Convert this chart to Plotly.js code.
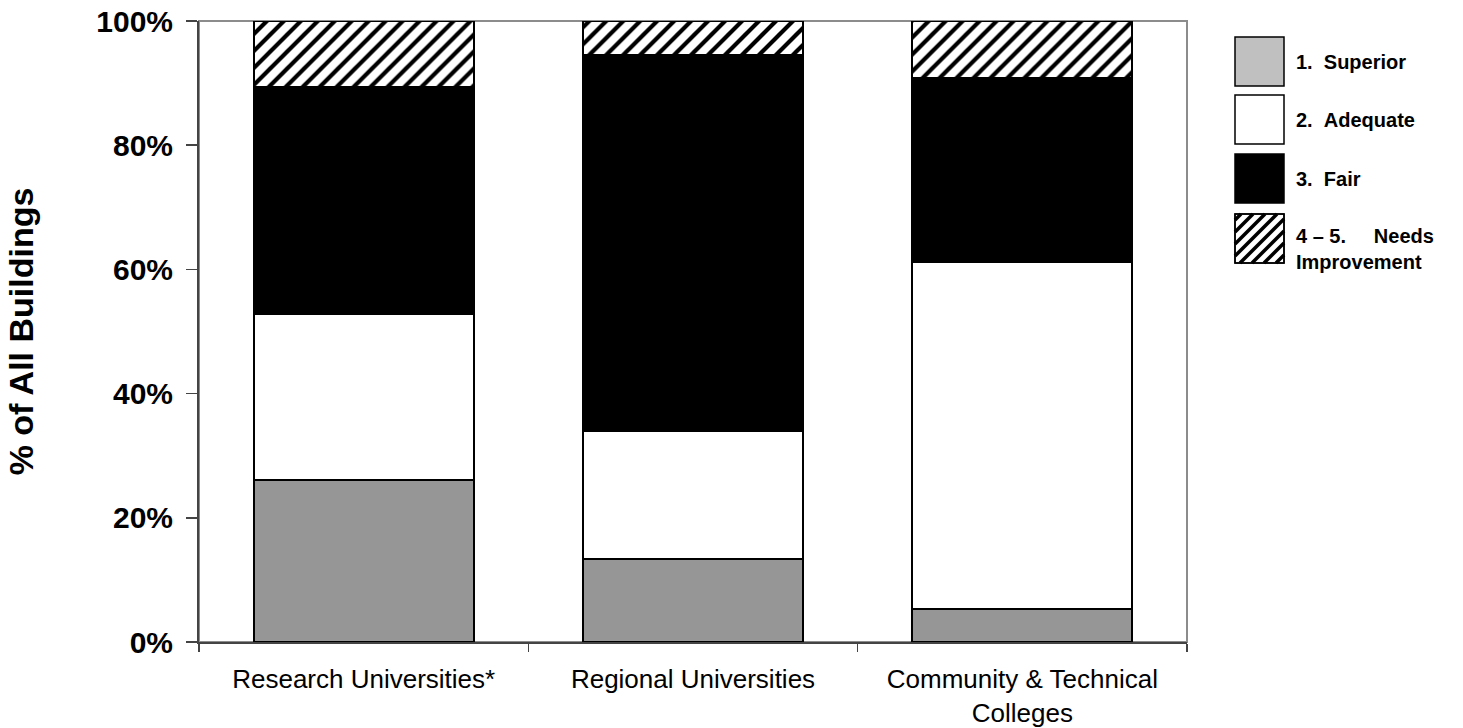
<!DOCTYPE html>
<html>
<head>
<meta charset="utf-8">
<script src="https://cdn.plot.ly/plotly-3.0.1.min.js"></script>
<style>html,body{margin:0;padding:0;background:#fff;}</style>
</head>
<body>
<div id="chart" style="width:1463px;height:728px;"></div>
<script>
// ---- data ----
const categories = ['Research Universities*', 'Regional Universities', 'Community & Technical<br>Colleges'];
const superior = [26.1, 13.4, 5.3];
const adequate = [26.7, 20.5, 55.9];
const fair = [36.5, 60.6, 29.6];
const needsImprovement = [10.7, 5.5, 9.2];
const seriesNames = ['1.\u00A0\u00A0Superior', '2.\u00A0\u00A0Adequate', '3.\u00A0\u00A0Fair', '4\u00A0\u2013\u00A05.\u00A0\u00A0\u00A0\u00A0\u00A0Needs<br>Improvement'];
const yTicks = [0, 20, 40, 60, 80, 100];

const FONT = 'Liberation Sans, Arial, sans-serif';
const outline = {color: '#000', width: 2};

const traces = [
  {x: categories, y: superior, type: 'bar', name: seriesNames[0], showlegend: false,
   marker: {color: '#969696', line: outline}},
  {x: categories, y: adequate, type: 'bar', name: seriesNames[1], showlegend: false,
   marker: {color: '#ffffff', line: outline}},
  {x: categories, y: fair, type: 'bar', name: seriesNames[2], showlegend: false,
   marker: {color: '#000000', line: outline}},
  {x: categories, y: needsImprovement, type: 'bar', name: seriesNames[3], showlegend: false,
   marker: {color: '#ffffff', line: outline,
     pattern: {shape: '/', size: 12, solidity: 0.35, fgcolor: '#000000', bgcolor: '#ffffff', fillmode: 'replace'}}}
];

// ---- layout geometry (pixels) ----
const W = 1463, H = 728;
const L = 199, R = 1187, T = 21, B = 642;
const px2x = p => (p - L) / (R - L);
const py2y = p => (B - p) / (B - T);

// custom legend: swatches + labels
const shapes = [];
const annotations = [];
const swX0 = 1235, swX1 = 1284, swSize = 49;
const swTops = [37, 95, 154, 214];
const swFills = ['#c0c0c0', '#ffffff', '#000000', '#ffffff'];
swTops.forEach((top, i) => {
  shapes.push({type: 'rect', xref: 'paper', yref: 'paper',
    x0: px2x(swX0), x1: px2x(swX1), y0: py2y(top + swSize), y1: py2y(top),
    fillcolor: swFills[i], line: {color: '#000', width: 1.5}, layer: 'above'});
});
// hatch lines in the 4th swatch
(function () {
  const x0 = swX0, x1 = swX1, yt = swTops[3], yb = swTops[3] + swSize;
  for (let c = x0 + yt + 6; c < x1 + yb; c += 12) {
    const a = Math.max(x0, c - yb), b = Math.min(x1, c - yt);
    if (b - a < 1) continue;
    shapes.push({type: 'line', xref: 'paper', yref: 'paper',
      x0: px2x(a), y0: py2y(c - a), x1: px2x(b), y1: py2y(c - b),
      line: {color: '#000', width: 3.5}, layer: 'above'});
  }
  shapes.push({type: 'rect', xref: 'paper', yref: 'paper',
    x0: px2x(x0), x1: px2x(x1), y0: py2y(yb), y1: py2y(yt),
    fillcolor: 'rgba(0,0,0,0)', line: {color: '#000', width: 1.5}, layer: 'above'});
})();
const labelCenters = [62, 120, 179, 249];
seriesNames.forEach((nm, i) => {
  annotations.push({xref: 'paper', yref: 'paper', x: px2x(1295), y: py2y(labelCenters[i]),
    xanchor: 'left', yanchor: 'middle', align: 'left', showarrow: false, text: nm, borderpad: 0,
    font: {family: FONT, size: 20, color: '#000', weight: 'bold'}});
});

// plot area border (grey)
shapes.push({type: 'rect', xref: 'paper', yref: 'paper', x0: 0, x1: 1, y0: 0, y1: 1,
  line: {color: '#8c8c8c', width: 2}, fillcolor: 'rgba(0,0,0,0)', layer: 'below'});

const layout = {
  width: W, height: H,
  margin: {l: L, r: W - R, t: T, b: H - B, pad: 0},
  paper_bgcolor: '#fff', plot_bgcolor: '#fff',
  barmode: 'stack', bargap: 0.332,
  font: {family: FONT, color: '#000'},
  showlegend: false,
  xaxis: {
    type: 'category', tickson: 'boundaries', ticks: 'outside', ticklen: 8, tickwidth: 1.5,
    tickcolor: '#444', showline: true, linecolor: '#444', linewidth: 2,
    showgrid: false, zeroline: false, automargin: false, ticklabelstandoff: 13,
    tickfont: {family: FONT, size: 26, color: '#000'}
  },
  yaxis: {
    range: [0, 100], tickvals: yTicks, ticktext: yTicks.map(v => v + '%'),
    ticks: 'outside', ticklen: 11, tickwidth: 1.5, tickcolor: '#444',
    showline: true, linecolor: '#444', linewidth: 2,
    showgrid: false, zeroline: false, automargin: false, ticklabelstandoff: 7,
    tickfont: {family: FONT, size: 30, color: '#000', weight: 'bold'},
    title: {text: '% of All Buildings', standoff: 52,
      font: {family: FONT, size: 34, color: '#000', weight: 'bold'}}
  },
  shapes: shapes,
  annotations: annotations
};

Plotly.newPlot('chart', traces, layout, {displayModeBar: false, staticPlot: true});
</script>
</body>
</html>
